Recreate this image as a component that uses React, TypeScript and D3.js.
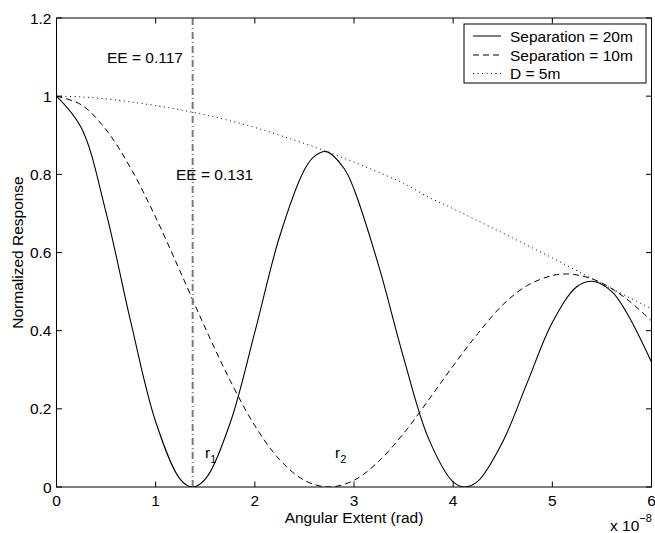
import React from "react";
import * as d3 from "d3";

// Angular extent samples (units of 1e-8 rad)
const thetaSep20 = [0, 0.25, 0.5, 0.75, 1.0, 1.25, 1.373, 1.5, 1.75, 2.0, 2.25, 2.5, 2.6, 2.72, 2.9, 3.0, 3.25, 3.5, 3.75, 4.0, 4.119, 4.25, 4.5, 4.75, 5.0, 5.25, 5.42, 5.6, 5.75, 6.0];
const respSep20 = [1.0, 0.919, 0.702, 0.421, 0.167, 0.019, 0.0, 0.02, 0.163, 0.396, 0.641, 0.812, 0.846, 0.858, 0.815, 0.762, 0.565, 0.331, 0.125, 0.013, 0.0, 0.015, 0.116, 0.269, 0.421, 0.513, 0.526, 0.5, 0.446, 0.32];

const thetaSep10 = [0, 0.25, 0.5, 0.75, 1.0, 1.25, 1.5, 1.75, 2.0, 2.25, 2.5, 2.746, 3.0, 3.25, 3.5, 3.75, 4.0, 4.25, 4.5, 4.75, 5.0, 5.15, 5.3, 5.5, 5.75, 6.0];
const respSep10 = [1.0, 0.978, 0.914, 0.815, 0.69, 0.55, 0.407, 0.273, 0.157, 0.07, 0.017, 0.0, 0.017, 0.066, 0.137, 0.222, 0.31, 0.393, 0.466, 0.516, 0.541, 0.545, 0.54, 0.522, 0.481, 0.425];

const thetaDish = [0, 0.25, 0.5, 0.75, 1.0, 1.25, 1.5, 1.75, 2.0, 2.25, 2.5, 2.75, 3.0, 3.25, 3.5, 3.75, 4.0, 4.25, 4.5, 4.75, 5.0, 5.25, 5.5, 5.75, 6.0];
const respDish = [1.0, 0.998, 0.993, 0.985, 0.976, 0.965, 0.952, 0.937, 0.92, 0.9, 0.879, 0.856, 0.831, 0.805, 0.777, 0.742, 0.712, 0.681, 0.65, 0.618, 0.586, 0.553, 0.52, 0.488, 0.456];

const xTicks = [0, 1, 2, 3, 4, 5, 6];
const yTicks = [0, 0.2, 0.4, 0.6, 0.8, 1, 1.2];
const yTickLabels = ["0", "0.2", "0.4", "0.6", "0.8", "1", "1.2"];

const legendLabels = ["Separation = 20m", "Separation = 10m", "D = 5m"];
const eeMarker = 1.373;
const eeLabels = ["EE = 0.117", "EE = 0.131"];

const W = 655;
const H = 533;
const left = 56.5;
const right = 651.5;
const top = 18;
const bottom = 487;
const font = "'Liberation Sans', Arial, Helvetica, sans-serif";
const fs = 15.5;

export default function App() {
  const x = d3.scaleLinear().domain([0, 6]).range([left, right]);
  const y = d3.scaleLinear().domain([0, 1.2]).range([bottom, top]);
  const line = d3
    .line<[number, number]>()
    .x((d) => x(d[0]))
    .y((d) => y(d[1]))
    .curve(d3.curveCatmullRom.alpha(0.5));

  const zip = (a: number[], b: number[]) => a.map((v, i) => [v, b[i]] as [number, number]);
  const pathSolid = line(zip(thetaSep20, respSep20)) || "";
  const pathDash = line(zip(thetaSep10, respSep10)) || "";
  const pathDot = line(zip(thetaDish, respDish)) || "";

  const tl = 5.5;
  const legX = 464;
  const legY = 24;
  const legRows = [36, 55, 73.5];
  const dashes = ["none", "6 4", "1 3.5"];

  return (
    <svg
      width={W}
      height={H}
      style={{ position: "absolute", left: 0, top: 0, background: "#fff" }}
      fontFamily={font}
    >
      <rect x={0} y={0} width={W} height={H} fill="#fff" />
      <defs>
        <clipPath id="plotClip">
          <rect x={left} y={top} width={right - left} height={bottom - top} />
        </clipPath>
      </defs>

      {/* curves */}
      <g clipPath="url(#plotClip)" fill="none">
        <path d={pathDot} stroke="#000" strokeWidth={1} strokeDasharray="1 3.5" />
        <path d={pathDash} stroke="#000" strokeWidth={1} strokeDasharray="6 4" />
        <path d={pathSolid} stroke="#000" strokeWidth={1.1} />
        <line
          x1={x(eeMarker)}
          x2={x(eeMarker)}
          y1={top}
          y2={bottom}
          stroke="#7a7a7a"
          strokeWidth={2}
          strokeDasharray="7 3 1 3"
        />
      </g>

      {/* frame and ticks */}
      <rect x={left} y={top} width={right - left} height={bottom - top} fill="none" stroke="#000" strokeWidth={1} />
      {xTicks.map((t) => (
        <g key={"xt" + t}>
          <line x1={x(t)} x2={x(t)} y1={bottom} y2={bottom - tl} stroke="#000" />
          <line x1={x(t)} x2={x(t)} y1={top} y2={top + tl} stroke="#000" />
          <text x={x(t)} y={bottom + 19} textAnchor="middle" fontSize={fs} fill="#000">
            {String(t)}
          </text>
        </g>
      ))}
      {yTicks.map((t, i) => (
        <g key={"yt" + t}>
          <line x1={left} x2={left + tl} y1={y(t)} y2={y(t)} stroke="#000" />
          <line x1={right} x2={right - tl} y1={y(t)} y2={y(t)} stroke="#000" />
          <text x={left - 5} y={y(t) + 5.5} textAnchor="end" fontSize={fs} fill="#000">
            {yTickLabels[i]}
          </text>
        </g>
      ))}

      {/* axis titles */}
      <text x={(left + right) / 2} y={522.5} textAnchor="middle" fontSize={fs} fill="#000">
        Angular Extent (rad)
      </text>
      <text x={610} y={531} fontSize={fs} fill="#000">
        x 10
        <tspan dy={-9} fontSize={11}>
          −8
        </tspan>
      </text>
      <text
        transform={`translate(23, ${(top + bottom) / 2}) rotate(-90)`}
        textAnchor="middle"
        fontSize={fs}
        fill="#000"
      >
        Normalized Response
      </text>

      {/* annotations */}
      <text x={107} y={63} fontSize={fs} fill="#000">
        {eeLabels[0]}
      </text>
      <text x={176} y={180} fontSize={fs} fill="#000">
        {eeLabels[1]}
      </text>
      <text x={205} y={458} fontSize={fs} fill="#000">
        r<tspan dy={5} fontSize={11}>1</tspan>
      </text>
      <text x={335} y={458} fontSize={fs} fill="#000">
        r<tspan dy={5} fontSize={11}>2</tspan>
      </text>

      {/* legend */}
      <rect x={legX} y={legY} width={646 - legX} height={83 - legY} fill="#fff" stroke="#000" strokeWidth={1} />
      {legendLabels.map((lab, i) => (
        <g key={lab}>
          <line
            x1={473}
            x2={501}
            y1={legRows[i]}
            y2={legRows[i]}
            stroke="#000"
            strokeWidth={1}
            strokeDasharray={dashes[i]}
          />
          <text x={510} y={legRows[i] + 5.5} fontSize={fs} fill="#000">
            {lab}
          </text>
        </g>
      ))}
    </svg>
  );
}
